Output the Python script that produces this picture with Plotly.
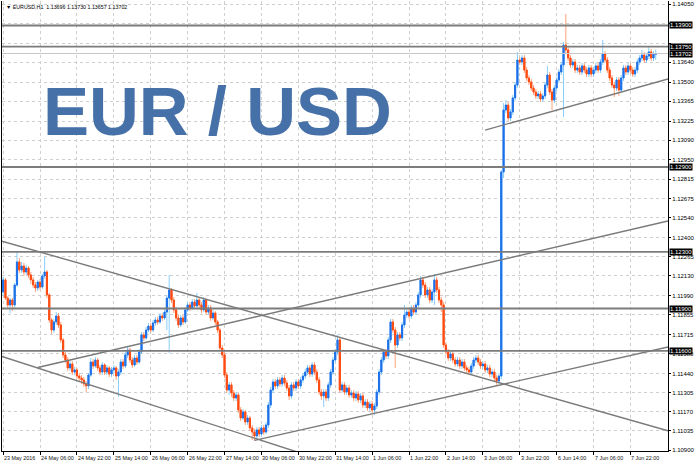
import plotly.graph_objects as go

# ---------------- data (EURUSD H1) ----------------
date_labels = ["23 May 2016", "24 May 06:00", "24 May 22:00", "25 May 14:00", "26 May 06:00",
               "26 May 22:00", "27 May 14:00", "30 May 06:00", "30 May 22:00", "31 May 14:00",
               "1 Jun 06:00", "1 Jun 22:00", "2 Jun 14:00", "3 Jun 06:00", "3 Jun 22:00",
               "6 Jun 14:00", "7 Jun 06:00", "7 Jun 22:00"]
label_step = 16

closes = [
    1.12102, 1.11974, 1.11925, 1.11960, 1.11925, 1.12066, 1.12229, 1.12172, 1.12200, 1.12158,
    1.12186, 1.12137, 1.12102, 1.12066, 1.12045, 1.12087, 1.12052, 1.12130, 1.12158, 1.11996,
    1.11819, 1.11748, 1.11805, 1.11847, 1.11784, 1.11678, 1.11572, 1.11536, 1.11480, 1.11508,
    1.11451, 1.11466, 1.11423, 1.11409, 1.11395, 1.11367, 1.11353, 1.11430, 1.11522, 1.11494,
    1.11536, 1.11480, 1.11451, 1.11501, 1.11451, 1.11480, 1.11437, 1.11466, 1.11480, 1.11423,
    1.11451, 1.11522, 1.11494, 1.11572, 1.11607, 1.11536, 1.11501, 1.11550, 1.11522, 1.11593,
    1.11713, 1.11692, 1.11748, 1.11776, 1.11748, 1.11798, 1.11819, 1.11805, 1.11847, 1.11833,
    1.11875, 1.11974, 1.12031, 1.11960, 1.11890, 1.11833, 1.11784, 1.11833, 1.11805, 1.11890,
    1.11925, 1.11904, 1.11946, 1.11918, 1.11960, 1.11925, 1.11890, 1.11960, 1.11875, 1.11904,
    1.11833, 1.11868, 1.11805, 1.11748, 1.11621, 1.11572, 1.11430, 1.11324, 1.11360, 1.11303,
    1.11268, 1.11289, 1.11183, 1.11126, 1.11169, 1.11098, 1.11126, 1.11056, 1.11027, 1.10999,
    1.11042, 1.11013, 1.11056, 1.11027, 1.11077, 1.11218, 1.11324, 1.11381, 1.11353, 1.11395,
    1.11367, 1.11409, 1.11374, 1.11338, 1.11282, 1.11360, 1.11338, 1.11381, 1.11353, 1.11395,
    1.11423, 1.11451, 1.11480, 1.11437, 1.11501, 1.11451, 1.11395, 1.11310, 1.11282, 1.11310,
    1.11268, 1.11360, 1.11451, 1.11536, 1.11593, 1.11678, 1.11324, 1.11360, 1.11310, 1.11338,
    1.11289, 1.11303, 1.11268, 1.11296, 1.11254, 1.11282, 1.11218, 1.11239, 1.11197, 1.11225,
    1.11183, 1.11211, 1.11310, 1.11451, 1.11536, 1.11593, 1.11565, 1.11678, 1.11805, 1.11748,
    1.11642, 1.11713, 1.11692, 1.11784, 1.11854, 1.11875, 1.11847, 1.11904, 1.11875, 1.11925,
    1.11996, 1.12102, 1.12066, 1.11996, 1.12031, 1.11960, 1.12017, 1.12102, 1.12031, 1.11960,
    1.11925, 1.11642, 1.11593, 1.11550, 1.11579, 1.11536, 1.11508, 1.11536, 1.11494, 1.11522,
    1.11480, 1.11466, 1.11451, 1.11494, 1.11536, 1.11550, 1.11522, 1.11494, 1.11508, 1.11466,
    1.11480, 1.11437, 1.11451, 1.11409, 1.11388, 1.11423, 1.12865, 1.13303, 1.13338, 1.13246,
    1.13289, 1.13388, 1.13479, 1.13656, 1.13642, 1.13670, 1.13585, 1.13529, 1.13501, 1.13458,
    1.13430, 1.13402, 1.13416, 1.13380, 1.13402, 1.13479, 1.13550, 1.13430, 1.13373, 1.13458,
    1.13515, 1.13571, 1.13621, 1.13762, 1.13727, 1.13670, 1.13621, 1.13642, 1.13585, 1.13600,
    1.13571, 1.13614, 1.13585, 1.13557, 1.13600, 1.13557, 1.13585, 1.13614, 1.13585, 1.13642,
    1.13698, 1.13656, 1.13585, 1.13529, 1.13479, 1.13458, 1.13515, 1.13444, 1.13529, 1.13600,
    1.13571, 1.13614, 1.13585, 1.13557, 1.13585, 1.13642, 1.13670, 1.13691, 1.13656, 1.13684,
    1.13713, 1.13670, 1.13696, 1.13702,
]

opens = [
    1.12017, 1.12102, 1.11974, 1.11925, 1.11960, 1.11925, 1.12066, 1.12229, 1.12172, 1.12200,
    1.12158, 1.12186, 1.12137, 1.12102, 1.12066, 1.12045, 1.12087, 1.12052, 1.12130, 1.12158,
    1.11996, 1.11819, 1.11748, 1.11805, 1.11847, 1.11784, 1.11678, 1.11572, 1.11536, 1.11480,
    1.11508, 1.11451, 1.11466, 1.11423, 1.11409, 1.11395, 1.11367, 1.11353, 1.11430, 1.11522,
    1.11494, 1.11536, 1.11480, 1.11451, 1.11501, 1.11451, 1.11480, 1.11437, 1.11466, 1.11480,
    1.11423, 1.11451, 1.11522, 1.11494, 1.11572, 1.11607, 1.11536, 1.11501, 1.11550, 1.11522,
    1.11593, 1.11713, 1.11692, 1.11748, 1.11776, 1.11748, 1.11798, 1.11819, 1.11805, 1.11847,
    1.11833, 1.11875, 1.11974, 1.12031, 1.11960, 1.11890, 1.11833, 1.11784, 1.11833, 1.11805,
    1.11890, 1.11925, 1.11904, 1.11946, 1.11918, 1.11960, 1.11925, 1.11890, 1.11960, 1.11875,
    1.11904, 1.11833, 1.11868, 1.11805, 1.11748, 1.11621, 1.11572, 1.11430, 1.11324, 1.11360,
    1.11303, 1.11268, 1.11289, 1.11183, 1.11126, 1.11169, 1.11098, 1.11126, 1.11056, 1.11027,
    1.10999, 1.11042, 1.11013, 1.11056, 1.11027, 1.11077, 1.11218, 1.11324, 1.11381, 1.11353,
    1.11395, 1.11367, 1.11409, 1.11374, 1.11338, 1.11282, 1.11360, 1.11338, 1.11381, 1.11353,
    1.11395, 1.11423, 1.11451, 1.11480, 1.11437, 1.11501, 1.11451, 1.11395, 1.11310, 1.11282,
    1.11310, 1.11268, 1.11360, 1.11451, 1.11536, 1.11593, 1.11678, 1.11324, 1.11360, 1.11310,
    1.11338, 1.11289, 1.11303, 1.11268, 1.11296, 1.11254, 1.11282, 1.11218, 1.11239, 1.11197,
    1.11225, 1.11183, 1.11211, 1.11310, 1.11451, 1.11536, 1.11593, 1.11565, 1.11678, 1.11805,
    1.11748, 1.11642, 1.11713, 1.11692, 1.11784, 1.11854, 1.11875, 1.11847, 1.11904, 1.11875,
    1.11925, 1.11996, 1.12102, 1.12066, 1.11996, 1.12031, 1.11960, 1.12017, 1.12102, 1.12031,
    1.11960, 1.11925, 1.11642, 1.11593, 1.11550, 1.11579, 1.11536, 1.11508, 1.11536, 1.11494,
    1.11522, 1.11480, 1.11466, 1.11451, 1.11494, 1.11536, 1.11550, 1.11522, 1.11494, 1.11508,
    1.11466, 1.11480, 1.11437, 1.11451, 1.11409, 1.11388, 1.11423, 1.12865, 1.13303, 1.13338,
    1.13246, 1.13289, 1.13388, 1.13479, 1.13656, 1.13642, 1.13670, 1.13585, 1.13529, 1.13501,
    1.13458, 1.13430, 1.13402, 1.13416, 1.13380, 1.13402, 1.13479, 1.13550, 1.13430, 1.13373,
    1.13458, 1.13515, 1.13571, 1.13621, 1.13762, 1.13727, 1.13670, 1.13621, 1.13642, 1.13585,
    1.13600, 1.13571, 1.13614, 1.13585, 1.13557, 1.13600, 1.13557, 1.13585, 1.13614, 1.13585,
    1.13642, 1.13698, 1.13656, 1.13585, 1.13529, 1.13479, 1.13458, 1.13515, 1.13444, 1.13529,
    1.13600, 1.13571, 1.13614, 1.13585, 1.13557, 1.13585, 1.13642, 1.13670, 1.13691, 1.13656,
    1.13684, 1.13713, 1.13670, 1.13696,
]

highs = [
    1.12123, 1.12116, 1.11988, 1.11974, 1.11974, 1.12080, 1.12299, 1.12257, 1.12229, 1.12222,
    1.12208, 1.12200, 1.12158, 1.12123, 1.12087, 1.12102, 1.12109, 1.12144, 1.12264, 1.12172,
    1.12010, 1.11833, 1.11826, 1.11875, 1.11868, 1.11805, 1.11692, 1.11593, 1.11557, 1.11529,
    1.11529, 1.11487, 1.11480, 1.11444, 1.11430, 1.11416, 1.11388, 1.11444, 1.11550, 1.11543,
    1.11557, 1.11550, 1.11501, 1.11522, 1.11515, 1.11501, 1.11494, 1.11487, 1.11501, 1.11494,
    1.11473, 1.11543, 1.11543, 1.11593, 1.11628, 1.11621, 1.11557, 1.11572, 1.11572, 1.11614,
    1.11734, 1.11734, 1.11769, 1.11798, 1.11798, 1.11819, 1.11840, 1.11840, 1.11868, 1.11868,
    1.11897, 1.11996, 1.12137, 1.12045, 1.11981, 1.11911, 1.11854, 1.11854, 1.11854, 1.11911,
    1.11946, 1.11946, 1.11967, 1.11967, 1.12010, 1.11981, 1.11946, 1.11981, 1.11974, 1.11925,
    1.11925, 1.11890, 1.11882, 1.11819, 1.11762, 1.11642, 1.11593, 1.11451, 1.11381, 1.11381,
    1.11324, 1.11310, 1.11303, 1.11204, 1.11190, 1.11183, 1.11148, 1.11141, 1.11077, 1.11049,
    1.11063, 1.11063, 1.11077, 1.11077, 1.11098, 1.11239, 1.11346, 1.11402, 1.11402, 1.11416,
    1.11416, 1.11430, 1.11430, 1.11395, 1.11360, 1.11381, 1.11381, 1.11402, 1.11402, 1.11416,
    1.11444, 1.11473, 1.11501, 1.11501, 1.11522, 1.11522, 1.11473, 1.11416, 1.11331, 1.11331,
    1.11331, 1.11381, 1.11473, 1.11557, 1.11614, 1.11713, 1.11699, 1.11381, 1.11381, 1.11360,
    1.11360, 1.11324, 1.11324, 1.11317, 1.11317, 1.11303, 1.11303, 1.11261, 1.11261, 1.11246,
    1.11246, 1.11232, 1.11331, 1.11473, 1.11557, 1.11614, 1.11614, 1.11699, 1.11826, 1.11826,
    1.11769, 1.11734, 1.11734, 1.11805, 1.11925, 1.11897, 1.11897, 1.11925, 1.11925, 1.11946,
    1.12017, 1.12130, 1.12123, 1.12087, 1.12052, 1.12052, 1.12038, 1.12144, 1.12123, 1.12052,
    1.11981, 1.11946, 1.11663, 1.11614, 1.11600, 1.11600, 1.11557, 1.11557, 1.11557, 1.11543,
    1.11543, 1.11501, 1.11487, 1.11515, 1.11557, 1.11572, 1.11572, 1.11543, 1.11529, 1.11529,
    1.11501, 1.11501, 1.11473, 1.11473, 1.11430, 1.11444, 1.12879, 1.13352, 1.13373, 1.13359,
    1.13310, 1.13409, 1.13501, 1.13713, 1.13677, 1.13691, 1.13691, 1.13607, 1.13550, 1.13522,
    1.13479, 1.13451, 1.13437, 1.13437, 1.13423, 1.13501, 1.13614, 1.13571, 1.13451, 1.13479,
    1.13536, 1.13592, 1.13642, 1.13783, 1.13981, 1.13748, 1.13691, 1.13663, 1.13663, 1.13621,
    1.13621, 1.13635, 1.13635, 1.13607, 1.13621, 1.13621, 1.13607, 1.13635, 1.13635, 1.13663,
    1.13797, 1.13720, 1.13677, 1.13607, 1.13550, 1.13501, 1.13536, 1.13536, 1.13550, 1.13621,
    1.13621, 1.13635, 1.13635, 1.13607, 1.13607, 1.13663, 1.13691, 1.13727, 1.13713, 1.13706,
    1.13748, 1.13734, 1.13720, 1.13730,
]

lows = [
    1.11988, 1.11960, 1.11897, 1.11868, 1.11882, 1.11904, 1.12052, 1.12151, 1.12151, 1.12130,
    1.12137, 1.12116, 1.12073, 1.12045, 1.12017, 1.12024, 1.12031, 1.12038, 1.12109, 1.11974,
    1.11798, 1.11720, 1.11727, 1.11784, 1.11762, 1.11656, 1.11550, 1.11515, 1.11459, 1.11459,
    1.11430, 1.11430, 1.11402, 1.11381, 1.11367, 1.11346, 1.11310, 1.11331, 1.11416, 1.11473,
    1.11480, 1.11459, 1.11430, 1.11430, 1.11430, 1.11430, 1.11416, 1.11416, 1.11444, 1.11395,
    1.11275, 1.11430, 1.11473, 1.11480, 1.11550, 1.11515, 1.11480, 1.11487, 1.11501, 1.11508,
    1.11579, 1.11670, 1.11678, 1.11734, 1.11727, 1.11734, 1.11776, 1.11784, 1.11791, 1.11812,
    1.11819, 1.11748, 1.11586, 1.11939, 1.11868, 1.11812, 1.11762, 1.11769, 1.11784, 1.11791,
    1.11875, 1.11882, 1.11890, 1.11897, 1.11904, 1.11904, 1.11868, 1.11875, 1.11854, 1.11854,
    1.11812, 1.11819, 1.11784, 1.11727, 1.11600, 1.11550, 1.11409, 1.11303, 1.11289, 1.11275,
    1.11246, 1.11246, 1.11162, 1.11105, 1.11112, 1.11077, 1.11077, 1.11035, 1.10971, 1.10964,
    1.10978, 1.10992, 1.10992, 1.11006, 1.11013, 1.11056, 1.11197, 1.11303, 1.11331, 1.11331,
    1.11346, 1.11346, 1.11353, 1.11317, 1.11254, 1.11261, 1.11317, 1.11317, 1.11331, 1.11331,
    1.11374, 1.11402, 1.11430, 1.11416, 1.11416, 1.11430, 1.11374, 1.11289, 1.11254, 1.11204,
    1.11246, 1.11246, 1.11338, 1.11430, 1.11515, 1.11572, 1.11303, 1.11303, 1.11289, 1.11289,
    1.11268, 1.11268, 1.11246, 1.11246, 1.11232, 1.11232, 1.11197, 1.11197, 1.11176, 1.11176,
    1.11162, 1.11148, 1.11190, 1.11289, 1.11430, 1.11515, 1.11543, 1.11543, 1.11656, 1.11727,
    1.11480, 1.11621, 1.11670, 1.11670, 1.11762, 1.11833, 1.11826, 1.11826, 1.11854, 1.11854,
    1.11904, 1.11974, 1.12045, 1.11974, 1.11974, 1.11939, 1.11939, 1.11925, 1.12010, 1.11939,
    1.11875, 1.11621, 1.11572, 1.11529, 1.11529, 1.11515, 1.11487, 1.11487, 1.11473, 1.11473,
    1.11459, 1.11444, 1.11430, 1.11430, 1.11473, 1.11515, 1.11501, 1.11473, 1.11473, 1.11444,
    1.11444, 1.11416, 1.11416, 1.11388, 1.11360, 1.11367, 1.11402, 1.12822, 1.13282, 1.13225,
    1.13225, 1.13267, 1.13366, 1.13458, 1.13621, 1.13621, 1.13564, 1.13508, 1.13479, 1.13437,
    1.13409, 1.13380, 1.13380, 1.13359, 1.13359, 1.13380, 1.13458, 1.13409, 1.13303, 1.13352,
    1.13437, 1.13494, 1.13550, 1.13253, 1.13706, 1.13649, 1.13600, 1.13600, 1.13564, 1.13564,
    1.13550, 1.13550, 1.13564, 1.13536, 1.13536, 1.13536, 1.13536, 1.13564, 1.13564, 1.13564,
    1.13621, 1.13635, 1.13564, 1.13508, 1.13458, 1.13395, 1.13437, 1.13402, 1.13423, 1.13508,
    1.13550, 1.13550, 1.13564, 1.13536, 1.13536, 1.13564, 1.13621, 1.13649, 1.13635, 1.13635,
    1.13663, 1.13649, 1.13649, 1.13657,
]

price_ticks = [1.14050, 1.13915, 1.13775, 1.13640, 1.13500, 1.13365, 1.13225, 1.13090,
               1.12950, 1.12815, 1.12675, 1.12540, 1.12400, 1.12265, 1.12130, 1.11990,
               1.11855, 1.11715, 1.11580, 1.11440, 1.11305, 1.11170, 1.11035, 1.10900]
hidden_tick_labels = [1.13915, 1.13775]   # covered by the level tags in the picture

horizontal_levels = [1.13900, 1.13750, 1.12900, 1.12300, 1.11900, 1.11600]
bid_price = 1.13702

# trend lines: (bar_a, price_a, bar_b, price_b, extend_left)
trend_lines = [
    (0, 1.12373, 288, 1.11037, True),
    (0, 1.11558, 108, 1.10989, True),
    (109, 1.10968, 288, 1.11627, False),
    (15, 1.11483, 288, 1.12517, False),
    (209, 1.13161, 288, 1.13521, False),
]

header_text = "\u25bc EURUSD,H1  1.13696 1.13730 1.13657 1.13702"
title_text = "EUR / USD"

# ---------------- figure ----------------
n = len(closes)
idx = list(range(n))
x_min, x_max = -0.5, 288.3
y_min, y_max = 1.10893, 1.14073

fig = go.Figure()

# wicks (light colours)
fig.add_trace(go.Candlestick(
    x=idx, open=opens, high=highs, low=lows, close=closes,
    increasing=dict(line=dict(color="#87CEFA", width=1), fillcolor="#87CEFA"),
    decreasing=dict(line=dict(color="#FFA07A", width=1), fillcolor="#FFA07A"),
    whiskerwidth=0, hoverinfo="skip", showlegend=False))

# bodies (strong colours)
body_hi = [max(o, c) for o, c in zip(opens, closes)]
body_lo = [min(o, c) for o, c in zip(opens, closes)]
fig.add_trace(go.Candlestick(
    x=idx, open=opens, high=body_hi, low=body_lo, close=closes,
    increasing=dict(line=dict(color="#1E6FE8", width=1), fillcolor="#1E6FE8"),
    decreasing=dict(line=dict(color="#FF4A12", width=1), fillcolor="#FF4A12"),
    whiskerwidth=0, hoverinfo="skip", showlegend=False))

shapes = []
for lvl in horizontal_levels:
    shapes.append(dict(type="line", xref="paper", yref="y", x0=0, x1=1, y0=lvl, y1=lvl,
                       line=dict(color="#7c7c7c", width=1.8)))
shapes.append(dict(type="line", xref="paper", yref="y", x0=0, x1=1, y0=bid_price, y1=bid_price,
                   line=dict(color="#c8c8c8", width=1)))

for xa, ya, xb, yb, ext_left in trend_lines:
    slope = (yb - ya) / (xb - xa)
    x0 = x_min if ext_left else xa
    y0 = ya + slope * (x0 - xa)
    x1 = x_max
    y1 = ya + slope * (x1 - xa)
    shapes.append(dict(type="line", xref="x", yref="y", x0=x0, y0=y0, x1=x1, y1=y1,
                       line=dict(color="#7a7a7a", width=1.4)))

annotations = []
for k, lab in enumerate(date_labels):
    annotations.append(dict(x=k * label_step, y=0, xref="x", yref="paper", text=lab,
                            showarrow=False, xanchor="left", yanchor="top", xshift=-1, yshift=-2,
                            font=dict(family="Liberation Sans", size=5.4, color="#111")))
for lvl in horizontal_levels + [bid_price]:
    annotations.append(dict(x=1, y=lvl, xref="paper", yref="y", text=f"{lvl:.5f}",
                            showarrow=False, xanchor="left", yanchor="middle", xshift=1,
                            bgcolor="#000", borderpad=0,
                            font=dict(family="Liberation Sans", size=6, color="#fff")))
annotations.append(dict(x=0, y=1, xref="paper", yref="paper", text=header_text, showarrow=False,
                        xanchor="left", yanchor="top", xshift=2, yshift=-1,
                        font=dict(family="Liberation Sans", size=5.3, color="#000")))
annotations.append(dict(x=0.0582, y=0.755, xref="paper", yref="paper", text=f"<b>{title_text}</b>",
                        showarrow=False, xanchor="left", yanchor="middle",
                        font=dict(family="Liberation Sans", size=69, color="#4570A8")))

tick_text = ["" if p in hidden_tick_labels else f"{p:.5f}" for p in price_ticks]

fig.update_layout(
    width=696, height=465,
    margin=dict(l=2, r=24, t=1, b=14),
    paper_bgcolor="white", plot_bgcolor="white",
    showlegend=False,
    shapes=shapes, annotations=annotations,
    xaxis=dict(range=[x_min, x_max], rangeslider=dict(visible=False),
               tickvals=[k * label_step for k in range(len(date_labels))],
               showticklabels=False, ticks="outside", ticklen=3, tickcolor="#000",
               showgrid=True, gridcolor="#cfcfcf", griddash="dot", gridwidth=1,
               showline=True, linecolor="#000", linewidth=1, zeroline=False),
    yaxis=dict(range=[y_min, y_max], side="right",
               tickvals=price_ticks, ticktext=tick_text,
               tickfont=dict(family="Liberation Sans", size=6, color="#000"),
               ticks="outside", ticklen=2, tickcolor="#000",
               showgrid=True, gridcolor="#cfcfcf", griddash="dot", gridwidth=1,
               showline=True, linecolor="#000", linewidth=1, mirror=True, zeroline=False),
)

fig.write_html("out.html", config={"displayModeBar": False},
               post_script="document.body.style.margin='0';")
